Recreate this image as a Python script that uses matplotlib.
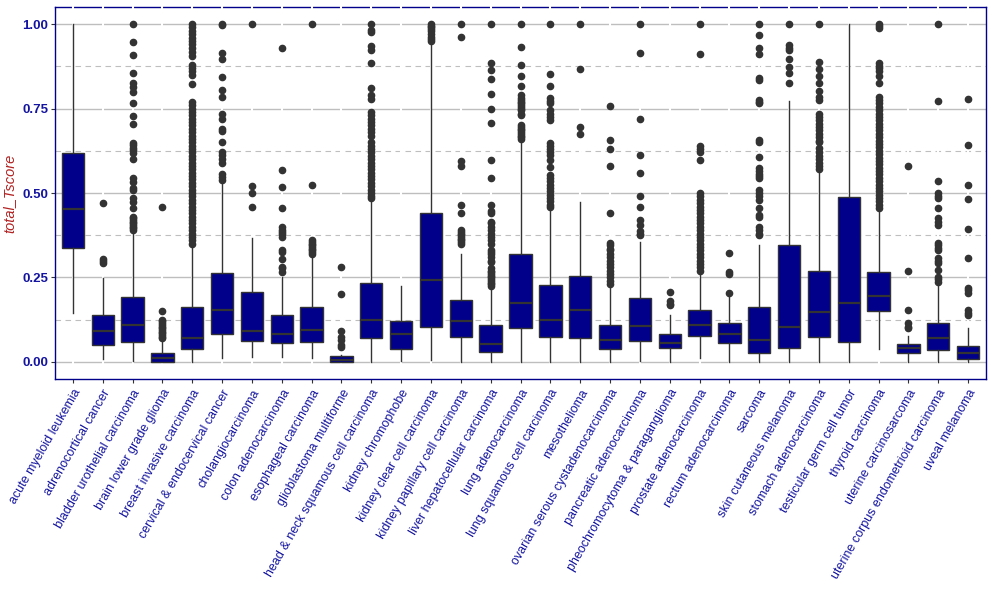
import numpy as np
import matplotlib
matplotlib.use("Agg")
import matplotlib.pyplot as plt

plt.rcParams['font.family'] = ['Liberation Sans', 'DejaVu Sans']

# cancer types (x axis)
cancers = [
    "acute myeloid leukemia", "adrenocortical cancer", "bladder urothelial carcinoma",
    "brain lower grade glioma", "breast invasive carcinoma", "cervical & endocervical cancer",
    "cholangiocarcinoma", "colon adenocarcinoma", "esophageal carcinoma",
    "glioblastoma multiforme", "head & neck squamous cell carcinoma", "kidney chromophobe",
    "kidney clear cell carcinoma", "kidney papillary cell carcinoma",
    "liver hepatocellular carcinoma", "lung adenocarcinoma", "lung squamous cell carcinoma",
    "mesothelioma", "ovarian serous cystadenocarcinoma", "pancreatic adenocarcinoma",
    "pheochromocytoma & paraganglioma", "prostate adenocarcinoma", "rectum adenocarcinoma",
    "sarcoma", "skin cutaneous melanoma", "stomach adenocarcinoma",
    "testicular germ cell tumor", "thyroid carcinoma", "uterine carcinosarcoma",
    "uterine corpus endometrioid carcinoma", "uveal melanoma",
]

# box statistics
whislo = [0.146, 0.008, 0.004, 0.000, 0.000, 0.011, 0.016, 0.016, 0.011, 0.000, 0.000,
          0.004, 0.006, 0.000, 0.000, 0.000, 0.000, 0.000, 0.000, 0.004, 0.000, 0.011,
          0.000, 0.000, 0.000, 0.000, 0.000, 0.037, 0.000, 0.000, 0.000]
q1 = [0.336, 0.049, 0.058, 0.000, 0.037, 0.082, 0.063, 0.055, 0.058, 0.000, 0.070,
      0.037, 0.105, 0.075, 0.031, 0.100, 0.073, 0.070, 0.037, 0.063, 0.040, 0.076,
      0.057, 0.026, 0.040, 0.073, 0.058, 0.150, 0.026, 0.035, 0.009]
med = [0.454, 0.093, 0.109, 0.013, 0.072, 0.155, 0.093, 0.083, 0.096, 0.006, 0.125,
       0.083, 0.243, 0.121, 0.053, 0.176, 0.125, 0.154, 0.066, 0.107, 0.056, 0.109,
       0.083, 0.066, 0.105, 0.149, 0.176, 0.196, 0.042, 0.071, 0.027]
q3 = [0.617, 0.138, 0.191, 0.026, 0.162, 0.262, 0.206, 0.138, 0.162, 0.017, 0.233,
      0.121, 0.440, 0.182, 0.108, 0.321, 0.227, 0.253, 0.108, 0.188, 0.082, 0.153,
      0.114, 0.162, 0.346, 0.270, 0.489, 0.267, 0.052, 0.114, 0.046]
whishi = [1.000, 0.248, 0.386, 0.065, 0.346, 0.526, 0.366, 0.250, 0.364, 0.021, 0.479,
          0.225, 0.943, 0.320, 0.220, 0.657, 0.449, 0.472, 0.220, 0.354, 0.139, 0.267,
          0.200, 0.346, 0.772, 0.563, 1.000, 0.445, 0.077, 0.225, 0.100]

# outliers per cancer type
fliers = [
    [],
    [0.469, 0.306, 0.299, 0.292],
    [1.0, 0.946, 0.907, 0.854, 0.826, 0.815, 0.798, 0.765, 0.728, 0.703, 0.649, 0.642,
     0.634, 0.627, 0.619, 0.600, 0.543, 0.534, 0.516, 0.509, 0.486, 0.474, 0.455, 0.43,
     0.425, 0.42, 0.415, 0.41, 0.405, 0.40, 0.395, 0.39],
    [0.458, 0.150, 0.124, 0.12, 0.115, 0.11, 0.105, 0.10, 0.095, 0.09, 0.085, 0.08, 0.075, 0.07],
    [1.0, 0.99, 0.98, 0.97, 0.96, 0.95, 0.94, 0.93, 0.918, 0.905, 0.88, 0.87, 0.86, 0.85,
     0.823, 0.77, 0.76, 0.75, 0.74, 0.73, 0.72, 0.71, 0.70, 0.69, 0.68, 0.67, 0.66, 0.65,
     0.64, 0.63, 0.62, 0.61, 0.60, 0.59, 0.58, 0.57, 0.56, 0.55, 0.54, 0.53, 0.52, 0.51,
     0.50, 0.49, 0.48, 0.47, 0.46, 0.45, 0.44, 0.43, 0.42, 0.41, 0.40, 0.39, 0.38, 0.37,
     0.36, 0.35],
    [1.0, 0.997, 0.913, 0.895, 0.842, 0.804, 0.783, 0.734, 0.719, 0.688, 0.683, 0.650,
     0.622, 0.612, 0.601, 0.588, 0.555, 0.548, 0.538],
    [1.0, 0.520, 0.499, 0.458],
    [0.928, 0.567, 0.517, 0.455, 0.398, 0.39, 0.385, 0.378, 0.37, 0.331, 0.326, 0.304,
     0.282, 0.277, 0.267],
    [1.0, 0.523, 0.36, 0.355, 0.35, 0.345, 0.34, 0.335, 0.33, 0.325, 0.32],
    [0.280, 0.200, 0.092, 0.073, 0.065, 0.050, 0.045],
    [1.0, 0.982, 0.975, 0.936, 0.923, 0.884, 0.81, 0.79, 0.778, 0.74, 0.73, 0.72, 0.71,
     0.70, 0.69, 0.68, 0.67, 0.65, 0.64, 0.63, 0.62, 0.61, 0.60, 0.59, 0.58, 0.57, 0.56,
     0.55, 0.54, 0.53, 0.52, 0.51, 0.50, 0.49, 0.485],
    [],
    [1.0, 0.995, 0.99, 0.985, 0.978, 0.97, 0.962, 0.955, 0.95],
    [1.0, 0.961, 0.596, 0.581, 0.464, 0.440, 0.39, 0.385, 0.38, 0.375, 0.37, 0.365, 0.36,
     0.355, 0.35],
    [1.0, 0.884, 0.864, 0.836, 0.792, 0.748, 0.706, 0.597, 0.543, 0.464, 0.447, 0.44,
     0.415, 0.41, 0.40, 0.39, 0.38, 0.37, 0.36, 0.35, 0.33, 0.325, 0.32, 0.31, 0.30,
     0.295, 0.277, 0.27, 0.265, 0.26, 0.255, 0.25, 0.245, 0.24, 0.235, 0.23, 0.225],
    [1.0, 0.931, 0.878, 0.845, 0.816, 0.789, 0.78, 0.775, 0.77, 0.765, 0.76, 0.755, 0.75,
     0.745, 0.735, 0.73, 0.70, 0.695, 0.69, 0.685, 0.68, 0.675, 0.67, 0.665, 0.66],
    [1.0, 0.851, 0.816, 0.78, 0.772, 0.765, 0.745, 0.735, 0.725, 0.716, 0.647, 0.64, 0.63,
     0.62, 0.613, 0.597, 0.576, 0.553, 0.545, 0.535, 0.524, 0.515, 0.505, 0.495, 0.485,
     0.475, 0.465, 0.46],
    [1.0, 0.866, 0.694, 0.674],
    [0.756, 0.656, 0.629, 0.579, 0.440, 0.353, 0.345, 0.335, 0.33, 0.32, 0.31, 0.30, 0.29,
     0.28, 0.27, 0.26, 0.25, 0.24, 0.23],
    [1.0, 0.913, 0.718, 0.611, 0.558, 0.490, 0.460, 0.420, 0.405, 0.388, 0.38, 0.375],
    [0.206, 0.181, 0.172, 0.168],
    [1.0, 0.910, 0.639, 0.63, 0.622, 0.597, 0.499, 0.49, 0.48, 0.47, 0.46, 0.45, 0.44,
     0.43, 0.42, 0.41, 0.40, 0.39, 0.38, 0.37, 0.36, 0.35, 0.34, 0.33, 0.32, 0.31, 0.30,
     0.29, 0.28, 0.27],
    [0.322, 0.265, 0.26, 0.205],
    [1.0, 0.966, 0.928, 0.910, 0.839, 0.835, 0.775, 0.77, 0.765, 0.657, 0.65, 0.606,
     0.573, 0.565, 0.557, 0.55, 0.545, 0.509, 0.50, 0.49, 0.48, 0.455, 0.435, 0.428, 0.40,
     0.39, 0.38, 0.376],
    [1.0, 0.938, 0.93, 0.923, 0.895, 0.872, 0.854, 0.824],
    [1.0, 0.887, 0.866, 0.845, 0.824, 0.801, 0.785, 0.775, 0.734, 0.725, 0.715, 0.705,
     0.695, 0.685, 0.675, 0.665, 0.655, 0.65, 0.632, 0.62, 0.61, 0.60, 0.59, 0.58, 0.57],
    [],
    [1.0, 0.993, 0.987, 0.884, 0.877, 0.87, 0.86, 0.845, 0.825, 0.785, 0.775, 0.765,
     0.755, 0.745, 0.735, 0.725, 0.715, 0.705, 0.695, 0.685, 0.675, 0.665, 0.655, 0.645,
     0.635, 0.625, 0.615, 0.605, 0.595, 0.585, 0.575, 0.565, 0.555, 0.545, 0.535, 0.525,
     0.515, 0.505, 0.495, 0.485, 0.475, 0.465, 0.455],
    [0.579, 0.268, 0.153, 0.114, 0.105, 0.10],
    [1.0, 0.771, 0.535, 0.499, 0.492, 0.486, 0.455, 0.425, 0.415, 0.405, 0.351, 0.345,
     0.337, 0.331, 0.309, 0.30, 0.292, 0.272, 0.252, 0.245, 0.238],
    [0.777, 0.641, 0.523, 0.481, 0.393, 0.307, 0.22, 0.212, 0.203, 0.153, 0.145, 0.139],
]

stats = []
for i in range(len(cancers)):
    stats.append(dict(whislo=whislo[i], q1=q1[i], med=med[i], q3=q3[i],
                      whishi=whishi[i], fliers=fliers[i]))

fig = plt.figure(figsize=(9.94, 6.12), dpi=100)
ax = fig.add_axes([55 / 994, (612 - 379) / 612, (986 - 55) / 994, (379 - 7) / 612])

edge = '#333333'
pos = np.arange(1, len(cancers) + 1)
ax.bxp(stats, positions=pos, widths=0.75, patch_artist=True, showcaps=False,
       boxprops=dict(facecolor='#00008B', edgecolor=edge, linewidth=1),
       medianprops=dict(color=edge, linewidth=1.6),
       whiskerprops=dict(color=edge, linewidth=1),
       flierprops=dict(marker='o', markersize=4.5, markerfacecolor=edge,
                       markeredgecolor=edge, linestyle='none'),
       zorder=3)

ax.set_xlim(0.4, len(cancers) + 0.6)
ax.set_ylim(-0.0503, 1.0503)
ax.set_yticks([0, 0.25, 0.5, 0.75, 1.0])
ax.set_yticklabels(["0.00", "0.25", "0.50", "0.75", "1.00"])
ax.set_yticks([0.125, 0.375, 0.625, 0.875], minor=True)
ax.yaxis.grid(True, which='major', color='#bebebe', linewidth=1, zorder=1)
ax.yaxis.grid(True, which='minor', color='#bebebe', linewidth=0.8,
              linestyle=(0, (5, 4)), zorder=1)
ax.tick_params(axis='y', which='minor', length=0)
for p in pos:
    ax.axvline(p, color='white', linewidth=1.5, ymin=0.01, ymax=1.0,
               zorder=2.6, clip_on=False)

ax.set_xticks(pos)
ax.set_xticklabels(cancers, rotation=60, ha='right', rotation_mode='anchor',
                   fontsize=9, color='#1414a0')
ax.tick_params(axis='x', length=3, color=edge, pad=3)
ax.tick_params(axis='y', length=3, color=edge, labelsize=9.5, labelcolor='#1414a0', pad=2)
for t in ax.get_yticklabels():
    t.set_fontweight('bold')

ax.set_ylabel("total_Tscore", fontstyle='italic', color='#b22222', fontsize=10.5, labelpad=4)

for s in ax.spines.values():
    s.set_color('#00008B')
    s.set_linewidth(1)

fig.savefig("out.png", dpi=100)
